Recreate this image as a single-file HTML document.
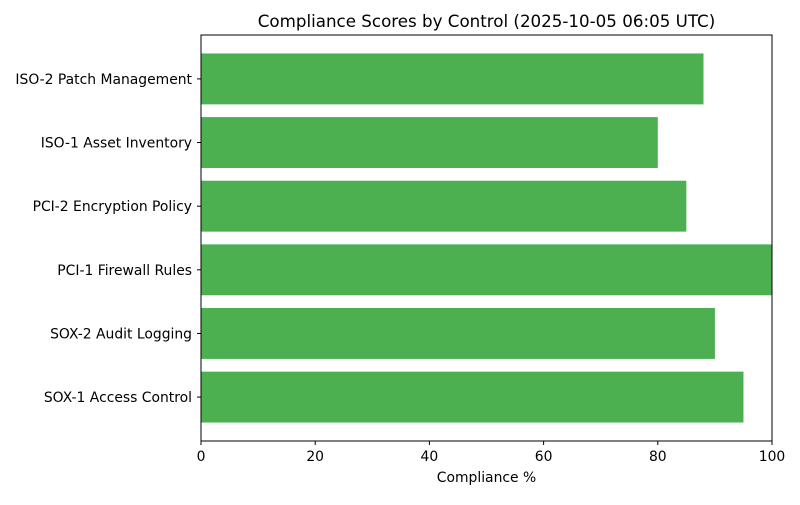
<!DOCTYPE html>
<html><head><meta charset="utf-8"><style>
body{margin:0;background:#fff;}
svg text{font-family:"DejaVu Sans",sans-serif;fill:#000;}
</style></head><body>
<svg id="chart" width="800" height="500" viewBox="0 0 800 500">
<text x="486.5" y="27" text-anchor="middle" font-size="16.7">Compliance Scores by Control (2025-10-05 06:05 UTC)</text>
<g id="bars"></g>
<g id="axes"></g>
<text x="486.5" y="482" text-anchor="middle" font-size="13.9">Compliance %</text>
</svg>
<script>
const categories = ["SOX-1 Access Control","SOX-2 Audit Logging","PCI-1 Firewall Rules","PCI-2 Encryption Policy","ISO-1 Asset Inventory","ISO-2 Patch Management"];
const scores = [95, 90, 100, 85, 80, 88];
const xTicks = [0, 20, 40, 60, 80, 100];

const L=201, R=772, T=35, B=441;
const xMin=0, xMax=100;
const yMin=-0.69, yMax=categories.length-1+0.69;
const xs = v => L + (v-xMin)/(xMax-xMin)*(R-L);
const ys = i => B - (i-yMin)/(yMax-yMin)*(B-T);
const unit = (B-T)/(yMax-yMin);
const NS="http://www.w3.org/2000/svg";
const bars=document.getElementById('bars'), axes=document.getElementById('axes');
function mk(tag, attrs, parent){const e=document.createElementNS(NS,tag);for(const k in attrs)e.setAttribute(k,attrs[k]);parent.appendChild(e);return e;}

scores.forEach((v,i)=>{
  const r=mk('rect',{x:xs(0),y:ys(i)-0.4*unit,width:xs(v)-xs(0),height:0.8*unit,fill:'#4caf50'},bars);
  
  
  mk('line',{x1:L,x2:L-4,y1:ys(i),y2:ys(i),stroke:'#000','stroke-width':1},axes);
  const t=mk('text',{x:L-9,y:ys(i)+5,'text-anchor':'end','font-size':13.9},axes);
  t.textContent=categories[i];
  
  
});
xTicks.forEach(v=>{
  mk('line',{x1:xs(v),x2:xs(v),y1:B,y2:B+4,stroke:'#000','stroke-width':1},axes);
  const t=mk('text',{x:xs(v),y:B+20,'text-anchor':'middle','font-size':13.9},axes);
  t.textContent=v;
  
  
});
const frame=mk('rect',{x:L,y:T,width:R-L,height:B-T,fill:'none',stroke:'#000','stroke-width':1},axes);


</script>
</body></html>
